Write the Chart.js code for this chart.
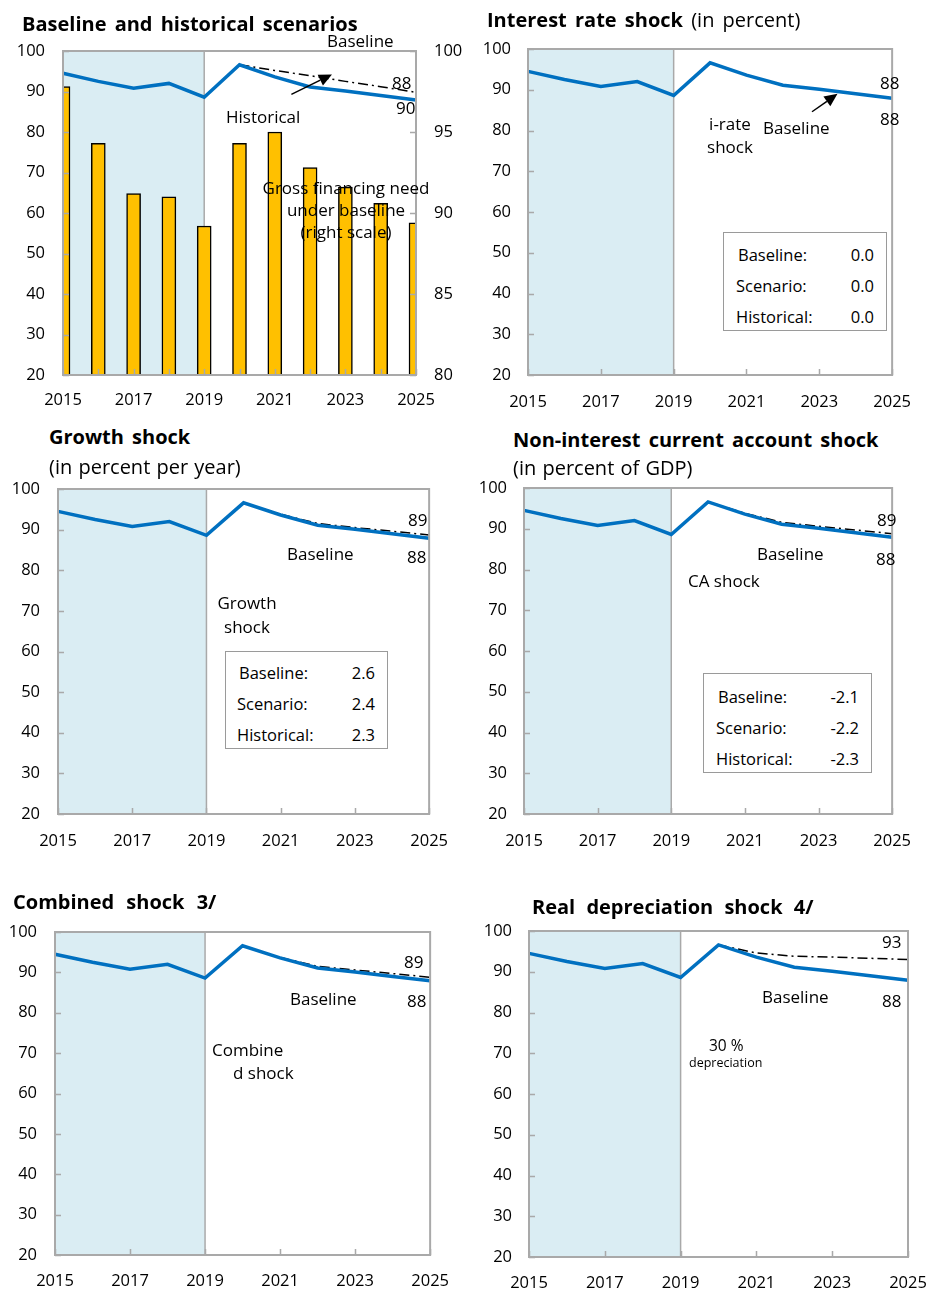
<!DOCTYPE html>
<html>
<head>
<meta charset="utf-8">
<script src="https://cdn.jsdelivr.net/npm/chart.js@4.4.1/dist/chart.umd.min.js"></script>
<style>
  html, body { margin:0; padding:0; background:#fff; }
  body { width:928px; height:1291px; overflow:hidden; position:relative; font-family:'Open Sans','Noto Sans',sans-serif; color:#000; }
  canvas { position:absolute; }
  .t { position:absolute; white-space:nowrap; font-size:17px; line-height:24px; z-index:2; }
  .title { position:absolute; white-space:nowrap; font-size:20px; font-weight:700; line-height:26px; word-spacing:3px; z-index:2; }
  .sub { font-weight:400; }
  .c { text-align:center; }
  .box { position:absolute; border:1px solid #9a9a9a; background:#fff; z-index:2; font-size:16.5px; }
  .box div { position:absolute; white-space:nowrap; line-height:22px; }
</style>
</head>
<body>
<canvas id="c1"></canvas>
<canvas id="c2"></canvas>
<canvas id="c3"></canvas>
<canvas id="c4"></canvas>
<canvas id="c5"></canvas>
<canvas id="c6"></canvas>

<!-- Panel 1 texts -->
<div class="title" style="left:22px;top:11px;">Baseline and historical scenarios</div>
<div class="t" style="left:327px;top:29px;">Baseline</div>
<div class="t" style="left:392px;top:71px;">88</div>
<div class="t" style="left:396px;top:96px;">90</div>
<div class="t" style="left:226px;top:105px;">Historical</div>
<div class="t c" style="left:246px;width:200px;top:177px;line-height:22px;">Gross financing need<br>under baseline<br>(right scale)</div>

<!-- Panel 2 texts -->
<div class="title" style="left:487px;top:7px;">Interest rate shock <span class="sub">(in percent)</span></div>
<div class="t" style="left:880px;top:71px;">88</div>
<div class="t" style="left:880px;top:107px;">88</div>
<div class="t c" style="left:690px;width:80px;top:112px;line-height:23px;">i-rate<br>shock</div>
<div class="t" style="left:763px;top:116px;">Baseline</div>
<div class="box" style="left:723px;top:232px;width:162px;height:97px;">
  <div style="left:14px;top:11px;">Baseline:</div><div style="right:12px;top:11px;">0.0</div>
  <div style="left:12px;top:42px;">Scenario:</div><div style="right:12px;top:42px;">0.0</div>
  <div style="left:12px;top:73px;">Historical:</div><div style="right:12px;top:73px;">0.0</div>
</div>

<!-- Panel 3 texts -->
<div class="title" style="left:49px;top:424px;">Growth shock</div>
<div class="title sub" style="left:49px;top:454px;word-spacing:1px;">(in percent per year)</div>
<div class="t" style="left:408px;top:508px;">89</div>
<div class="t" style="left:407px;top:545px;">88</div>
<div class="t" style="left:287px;top:542px;">Baseline</div>
<div class="t c" style="left:207px;width:80px;top:591px;">Growth<br>shock</div>
<div class="box" style="left:225px;top:651px;width:161px;height:96px;">
  <div style="left:13px;top:10px;">Baseline:</div><div style="right:12px;top:10px;">2.6</div>
  <div style="left:11px;top:41px;">Scenario:</div><div style="right:12px;top:41px;">2.4</div>
  <div style="left:11px;top:72px;">Historical:</div><div style="right:12px;top:72px;">2.3</div>
</div>

<!-- Panel 4 texts -->
<div class="title" style="left:513px;top:427px;">Non-interest current account shock</div>
<div class="title sub" style="left:513px;top:455px;word-spacing:1px;">(in percent of GDP)</div>
<div class="t" style="left:877px;top:508px;">89</div>
<div class="t" style="left:876px;top:547px;">88</div>
<div class="t" style="left:757px;top:542px;">Baseline</div>
<div class="t" style="left:688px;top:569px;">CA shock</div>
<div class="box" style="left:703px;top:673px;width:167px;height:98px;">
  <div style="left:14px;top:12px;">Baseline:</div><div style="right:12px;top:12px;">-2.1</div>
  <div style="left:12px;top:43px;">Scenario:</div><div style="right:12px;top:43px;">-2.2</div>
  <div style="left:12px;top:74px;">Historical:</div><div style="right:12px;top:74px;">-2.3</div>
</div>

<!-- Panel 5 texts -->
<div class="title" style="left:13px;top:889px;word-spacing:7px;">Combined shock 3/</div>
<div class="t" style="left:404px;top:950px;">89</div>
<div class="t" style="left:407px;top:989px;">88</div>
<div class="t" style="left:290px;top:987px;">Baseline</div>
<div class="t" style="left:212px;top:1038px;">Combine</div>
<div class="t" style="left:233px;top:1061px;">d shock</div>

<!-- Panel 6 texts -->
<div class="title" style="left:532px;top:894px;word-spacing:6px;">Real depreciation shock 4/</div>
<div class="t" style="left:882px;top:930px;">93</div>
<div class="t" style="left:882px;top:989px;">88</div>
<div class="t" style="left:762px;top:985px;">Baseline</div>
<div class="t" style="left:709px;top:1033px;font-size:15.5px;">30 %</div>
<div class="t" style="left:689px;top:1054px;font-size:12.5px;line-height:18px;">depreciation</div>

<script>
// ---------- data ----------
const years = ['2015','2016','2017','2018','2019','2020','2021','2022','2023','2024','2025'];
const xTickLabels = ['2015','2017','2019','2021','2023','2025'];
const leftTicks = [20, 30, 40, 50, 60, 70, 80, 90, 100];
const rightTicks = [80, 85, 90, 95, 100];
const projectionStart = '2019';

const baseline = [94.5, 92.5, 90.8, 92.0, 88.6, 96.6, 93.6, 91.1, 90.1, 89.0, 87.9];
const historical = [null, null, null, null, null, 96.6, 95.2, 93.9, 92.5, 91.2, 89.8];
const grossFinancingNeed = [97.8, 94.3, 91.2, 91.0, 89.2, 94.3, 95.0, 92.8, 91.6, 90.6, 89.4];
const interestRateShock = [null, null, null, null, null, 96.6, 93.6, 91.1, 90.1, 89.0, 87.9];
const growthShock = [null, null, null, null, null, 96.6, 93.8, 91.5, 90.5, 89.6, 88.7];
const caShock = [null, null, null, null, null, 96.6, 93.8, 91.6, 90.6, 89.7, 88.8];
const combinedShock = [null, null, null, null, null, 96.6, 93.7, 91.5, 90.6, 89.7, 88.8];
const depreciationShock = [null, null, null, null, null, 96.6, 94.6, 93.8, 93.6, 93.3, 93.0];

// arrow annotations: [tail (category index, value), head (category index, value)]
const arrowHistorical = [[6.47, 89.3], [7.62, 94.2]];
const arrowIRate = [[7.8, 84.6], [8.5, 89.0]];

// ---------- setup ----------
Chart.defaults.font.family = "'Open Sans','Noto Sans',sans-serif";
Chart.defaults.font.size = 16.5;
Chart.defaults.color = '#000';
Chart.defaults.animation = false;

const GRID = '#a9a9a9';

const framePlugin = {
  id: 'frame',
  beforeDatasetsDraw(chart, args, opts) {
    const { ctx, chartArea: a, scales } = chart;
    const xs = scales.x.getPixelForValue(years.indexOf(projectionStart));
    ctx.save();
    ctx.fillStyle = '#DAEDF3';
    ctx.fillRect(a.left, a.top, xs - a.left, a.bottom - a.top);
    ctx.strokeStyle = GRID;
    ctx.lineWidth = 1.5;
    ctx.beginPath(); ctx.moveTo(xs, a.top); ctx.lineTo(xs, a.bottom); ctx.stroke();
    ctx.restore();
  },
  afterDatasetsDraw(chart, args, opts) {
    const { ctx, chartArea: a, scales } = chart;
    ctx.save();
    ctx.strokeStyle = GRID;
    ctx.lineWidth = 2;
    ctx.strokeRect(a.left, a.top, a.right - a.left, a.bottom - a.top);
    ctx.lineWidth = 1.5;
    ctx.beginPath();
    scales.y.ticks.forEach(t => {
      const y = Math.round(scales.y.getPixelForValue(t.value)) + 0.5;
      ctx.moveTo(a.left, y); ctx.lineTo(a.left + 6, y);
    });
    if (scales.y2) {
      scales.y2.ticks.forEach(t => {
        const y = Math.round(scales.y2.getPixelForValue(t.value)) + 0.5;
        ctx.moveTo(a.right - 6, y); ctx.lineTo(a.right, y);
      });
    }
    years.forEach((yr, i) => {
      if (i % opts.tickEvery === 0) {
        const x = Math.round(scales.x.getPixelForValue(i)) + 0.5;
        ctx.moveTo(x, a.bottom); ctx.lineTo(x, a.bottom - 6);
      }
    });
    ctx.stroke();
    if (opts.arrow) {
      const yS = scales.y;
      const [p0, p1] = opts.arrow;
      const x0 = scales.x.getPixelForValue(p0[0]), y0 = yS.getPixelForValue(p0[1]);
      const x1 = scales.x.getPixelForValue(p1[0]), y1 = yS.getPixelForValue(p1[1]);
      const ang = Math.atan2(y1 - y0, x1 - x0);
      const hl = 13, hw = 6;
      const bx = x1 - hl * Math.cos(ang), by = y1 - hl * Math.sin(ang);
      ctx.strokeStyle = '#000'; ctx.fillStyle = '#000'; ctx.lineWidth = 1.5;
      ctx.beginPath(); ctx.moveTo(x0, y0); ctx.lineTo(bx, by); ctx.stroke();
      ctx.beginPath();
      ctx.moveTo(x1, y1);
      ctx.lineTo(bx + hw * Math.sin(ang), by - hw * Math.cos(ang));
      ctx.lineTo(bx - hw * Math.sin(ang), by + hw * Math.cos(ang));
      ctx.closePath(); ctx.fill();
    }
    ctx.restore();
  }
};

function baselineDs() {
  return { type: 'line', data: baseline, borderColor: '#0070C0', borderWidth: 3.5,
           pointRadius: 0, fill: false, tension: 0, order: 0, yAxisID: 'y' };
}
function scenarioDs(data) {
  return { type: 'line', data: data, borderColor: '#000', borderWidth: 1.5,
           borderDash: [10, 4, 2, 4], pointRadius: 0, fill: false, tension: 0, order: 1, yAxisID: 'y' };
}

// canvas top = plot top - padTop(30); height = 30 + plot height + 40
const panels = [
  { id: 'c1', left: 0,   top: 21,  width: 470, height: 394, yW: 63, padRight: 0,  yPad: 18, xPad: 15, tickEvery: 1, scenario: historical, bars: true, rightW: 54, rightPad: 18, arrow: arrowHistorical },
  { id: 'c2', left: 470, top: 19,  width: 458, height: 396, yW: 58, padRight: 23, yPad: 17, xPad: 17, tickEvery: 2, scenario: interestRateShock, arrow: arrowIRate },
  { id: 'c3', left: 0,   top: 459, width: 465, height: 395, yW: 58, padRight: 30, yPad: 18, xPad: 17, tickEvery: 2, scenario: growthShock },
  { id: 'c4', left: 470, top: 458, width: 458, height: 396, yW: 54, padRight: 25, yPad: 17, xPad: 17, tickEvery: 2, scenario: caShock },
  { id: 'c5', left: 0,   top: 902, width: 465, height: 393, yW: 55, padRight: 28, yPad: 18, xPad: 16, tickEvery: 2, scenario: combinedShock },
  { id: 'c6', left: 470, top: 901, width: 480, height: 396, yW: 59, padRight: 42, yPad: 17, xPad: 16, tickEvery: 2, scenario: depreciationShock }
];

panels.forEach(p => {
  const cv = document.getElementById(p.id);
  cv.width = p.width; cv.height = p.height;
  cv.style.left = p.left + 'px'; cv.style.top = p.top + 'px';
  cv.style.width = p.width + 'px'; cv.style.height = p.height + 'px';

  const datasets = [baselineDs(), scenarioDs(p.scenario)];
  const scales = {
    x: {
      type: 'category', labels: years, offset: false,
      grid: { display: false, drawTicks: false, offset: false }, border: { display: false },
      ticks: { autoSkip: false, maxRotation: 0, minRotation: 0, padding: p.xPad,
               callback: (v, i) => xTickLabels.includes(years[i]) ? years[i] : '' },
      afterFit: s => { s.height = 40; }
    },
    y: {
      type: 'linear', position: 'left', min: leftTicks[0], max: leftTicks[leftTicks.length - 1],
      grid: { display: false, drawTicks: false }, border: { display: false },
      ticks: { padding: p.yPad },
      afterBuildTicks: s => { s.ticks = leftTicks.map(v => ({ value: v })); },
      afterFit: s => { s.width = p.yW; }
    }
  };
  if (p.bars) {
    datasets.push({ type: 'bar', data: grossFinancingNeed, yAxisID: 'y2', backgroundColor: '#FFC000',
                    borderColor: '#000', borderWidth: 1.5, barThickness: 14, order: 2, clip: 0 });
    scales.y2 = {
      type: 'linear', position: 'right', min: rightTicks[0], max: rightTicks[rightTicks.length - 1],
      grid: { display: false, drawTicks: false }, border: { display: false },
      ticks: { padding: p.rightPad },
      afterBuildTicks: s => { s.ticks = rightTicks.map(v => ({ value: v })); },
      afterFit: s => { s.width = p.rightW; }
    };
  }
  new Chart(cv, {
    type: 'line',
    data: { labels: years, datasets },
    options: {
      responsive: false, devicePixelRatio: 1, animation: false,
      layout: { padding: { top: 30, right: p.padRight, left: 0, bottom: 0 } },
      plugins: { legend: { display: false }, tooltip: { enabled: false },
                 frame: { tickEvery: p.tickEvery, arrow: p.arrow || null } },
      scales
    },
    plugins: [framePlugin]
  });
});
</script>
</body>
</html>
